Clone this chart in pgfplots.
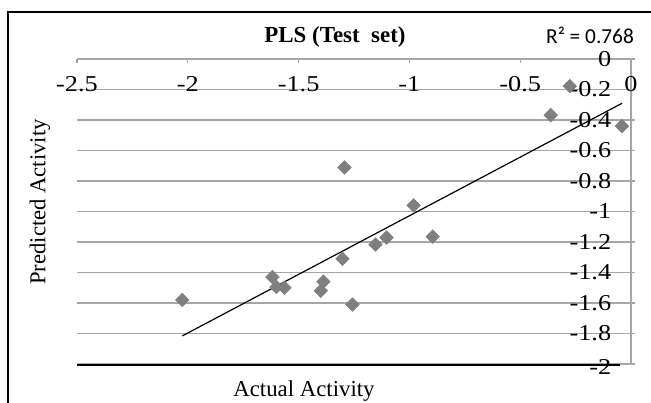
\documentclass[border=0pt]{standalone}
\usepackage{pgfplots}
\pgfplotsset{compat=1.18}
\usepackage{fontspec}
\setmainfont{Liberation Serif}
\newfontfamily\calibri{Carlito}
\definecolor{gridgray}{HTML}{A6A6A6}
\definecolor{markgray}{HTML}{7F7F7F}
\begin{document}
\begin{tikzpicture}[x=0.75pt,y=0.75pt]
\path[use as bounding box] (0,0) rectangle (651,403);
\draw[black, line width=0.9pt] (8,-10) -- (8,391) -- (670,391);
\begin{axis}[
  at={(57.75pt,29.25pt)}, anchor=south west,
  scale only axis, width=415.5pt, height=228.75pt,
  xmin=-2.5, xmax=0, ymin=-2, ymax=0,
  axis x line=middle, axis y line=middle,
  axis line style={-, gridgray, line width=0.8pt},
  hide obscured x ticks=false, hide obscured y ticks=false,
  xtick={-2.5,-2,-1.5,-1,-0.5,0},
  xticklabels={-2.5,-2,-1.5,-1,-0.5,0},
  ytick={-1.8,-1.6,-1.4,-1.2,-1,-0.8,-0.6,-0.4,-0.2,0},
  yticklabels={-1.8,-1.6,-1.4,-1.2,-1,-0.8,-0.6,-0.4,-0.2,0},
  extra y ticks={-2}, extra y tick labels={-2},
  extra y tick style={yticklabel style={yshift=-2pt}},
  ymajorgrids, grid style={gridgray, line width=0.8pt},
  major tick length=3pt,
  tick style={gridgray, line width=0.8pt},
  x tick style={yshift=-1.5pt},
  y tick style={xshift=1.5pt},
  xticklabel style={font=\fontsize{17}{19}\selectfont, xscale=1.16, anchor=north, yshift=-8pt},
  yticklabel style={font=\fontsize{17}{19}\selectfont, xscale=1.16, anchor=east, xshift=-8pt},
  clip=false,
]
\addplot[only marks, mark=square*, mark size=3.6pt, mark options={rotate=45, fill=markgray, draw=markgray}] coordinates {
(-0.276,-0.178)
(-0.362,-0.368)
(-0.041,-0.44)
(-0.981,-0.96)
(-0.895,-1.165)
(-1.293,-0.711)
(-1.103,-1.171)
(-1.153,-1.217)
(-1.302,-1.31)
(-1.618,-1.43)
(-1.600,-1.495)
(-1.564,-1.50)
(-1.388,-1.46)
(-1.400,-1.52)
(-1.257,-1.61)
(-2.025,-1.58)
};
\addplot[black, line width=0.9pt, no marks] coordinates {(-2.025,-1.816) (-0.04,-0.29)};
\coordinate (bl) at (axis cs:-2.5,-2);
\coordinate (br) at (axis cs:-0.05,-2);
\end{axis}
\draw[black, line width=2pt] ([yshift=-0.8pt]bl) -- ([yshift=-0.8pt]br);
\node[font=\fontsize{17.2}{19}\selectfont\bfseries] at (335,366) {PLS (Test\ \ set)};
\node[font=\fontsize{16}{18}\selectfont\calibri] at (590,368) {R² = 0.768};
\node[font=\fontsize{17}{19}\selectfont, rotate=90] at (40,201) {Predicted Activity};
\node[font=\fontsize{17.1}{19}\selectfont] at (304,12) {Actual Activity};
\end{tikzpicture}
\end{document}
